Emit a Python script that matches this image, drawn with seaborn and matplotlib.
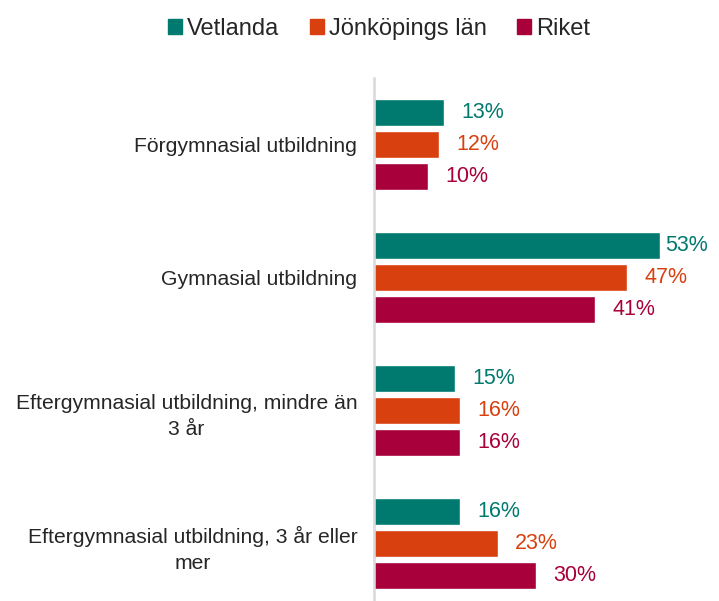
import matplotlib
matplotlib.use('Agg')
import matplotlib.pyplot as plt
import seaborn as sns
import pandas as pd

# Utbildningsnivå, andel av befolkningen
categories = ['Förgymnasial utbildning',
              'Gymnasial utbildning',
              'Eftergymnasial utbildning, mindre än\n3 år',
              'Eftergymnasial utbildning, 3 år eller\nmer']
regions = ['Vetlanda', 'Jönköpings län', 'Riket']
vetlanda = [13, 53, 15, 16]
jonkoping = [12, 47, 16, 23]
riket = [10, 41, 16, 30]
colors = ['#007A6E', '#D9400F', '#A8003A']

df = pd.DataFrame({
    'kategori': categories * 3,
    'region': [r for r in regions for _ in categories],
    'andel': vetlanda + jonkoping + riket,
})

sns.set_style('white')
plt.rcParams['font.family'] = ['Liberation Sans', 'DejaVu Sans']

fig = plt.figure(figsize=(7.19, 6.01), dpi=100)
ax = fig.add_axes([374 / 719, 0, 1 - 374 / 719 - 0.03, 1 - 78 / 601])

sns.barplot(data=df, y='kategori', x='andel', hue='region', orient='h',
            palette=colors, saturation=1, width=0.72, gap=0.16, ax=ax,
            legend=False)

# Värdeetiketter (den längsta stapeln får sin etikett närmare, som i originalet)
for cont, col in zip(ax.containers, colors):
    for bar in cont:
        w = bar.get_width()
        off = 4 if w > 50 else 12.5
        ax.annotate(f'{w:.0f}%', (w, bar.get_y() + bar.get_height() / 2),
                    xytext=(off, 0), textcoords='offset points',
                    va='center', ha='left', fontsize=15.5, color=col)

ax.set_xlim(0, 60)
ax.set_ylim(3.43, -0.5)
ax.set_xlabel('')
ax.set_ylabel('')
ax.set_xticks([])
ax.set_yticks(range(len(categories)))
ax.set_yticklabels(categories, multialignment='center', fontsize=15.2,
                   linespacing=1.5)
ax.tick_params(axis='y', length=0, pad=12)
for s in ['top', 'right', 'bottom']:
    ax.spines[s].set_visible(False)
ax.spines['left'].set_color('#D9D9D9')
ax.spines['left'].set_linewidth(1.8)

handles = [plt.Rectangle((0, 0), 1, 1, color=c) for c in colors]
fig.legend(handles, regions, loc='upper center', bbox_to_anchor=(0.527, 1.005),
           ncol=3, frameon=False, fontsize=17, handlelength=0.6,
           handleheight=0.6, handletextpad=0.2, columnspacing=1.3)

fig.savefig('out.png', dpi=100)
